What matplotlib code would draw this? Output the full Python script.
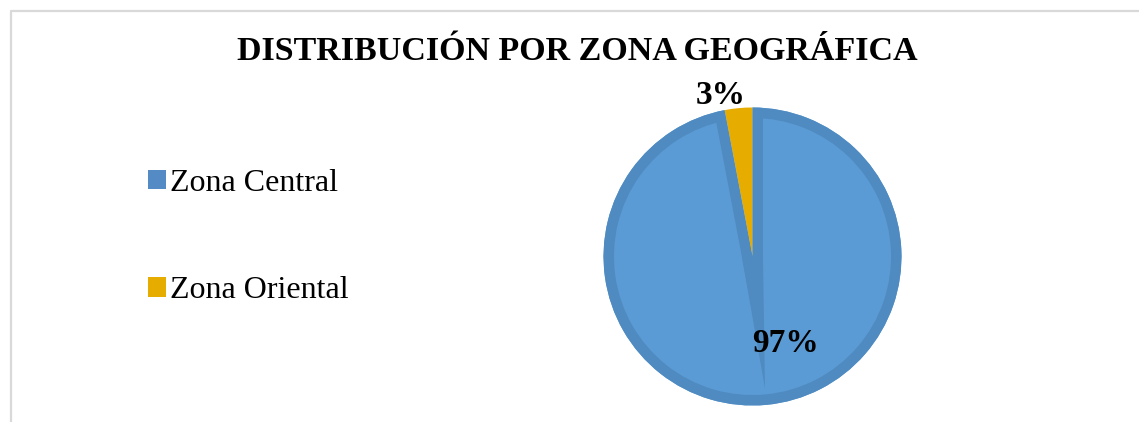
import numpy as np
import matplotlib.pyplot as plt
from matplotlib.patches import Patch, Wedge, Polygon

# données
zonas = ['Zona Central', 'Zona Oriental']
valores = [97, 3]
etiquetas = ['97%', '3%']
titulo = 'DISTRIBUCIÓN POR ZONA GEOGRÁFICA'

azul = '#5B9BD5'
azul_borde = '#4F8BC1'
naranja = '#E6AC00'

plt.rcParams['font.family'] = ['Liberation Serif', 'DejaVu Serif']

W, H = 1139, 422
fig = plt.figure(figsize=(W / 100, H / 100), dpi=100)
ax = fig.add_axes([0, 0, 1, 1])
ax.set_xlim(0, W)
ax.set_ylim(0, H)
ax.set_aspect('equal')
ax.axis('off')

# cadre gris clair
ax.plot([10.5, 10.5, W + 5], [-5, H - 11, H - 11], color='#D9D9D9', lw=1.6)

cx, cy, r = 752.5, H - 256.5, 149
wedges, _ = ax.pie(valores, colors=[azul, naranja], startangle=90,
                   counterclock=False, center=(cx, cy), radius=r,
                   wedgeprops=dict(linewidth=0))

# bordure intérieure du secteur bleu : même secteur, trait épais coupé par le secteur
w0 = wedges[0]
e = 10.5   # demi-épaisseur du trait (px)
borde = Wedge(w0.center, w0.r, w0.theta1, w0.theta2, facecolor='none',
              edgecolor=azul_borde, linewidth=2 * e * 72 / 100, zorder=3)
ax.add_patch(borde)
borde.set_clip_path(w0)

# pointe du raccord en onglet au centre (comme Excel)
c = np.array(w0.center)
t1, t2 = np.radians(w0.theta1), np.radians(w0.theta2)
demi = (2 * np.pi - (t2 - t1)) / 2
bis = (t1 + t2) / 2
A = c + e * np.array([np.cos(t2 - np.pi / 2), np.sin(t2 - np.pi / 2)])
B = c + e * np.array([np.cos(t1 + np.pi / 2), np.sin(t1 + np.pi / 2)])
T = c + 12.5 / np.sin(demi) * np.array([np.cos(bis), np.sin(bis)])
pointe = Polygon([c, A, T, B], closed=True, facecolor=azul_borde,
                 edgecolor='none', zorder=3)
ax.add_patch(pointe)
pointe.set_clip_path(w0)
ax.set_xlim(0, W)
ax.set_ylim(0, H)

# étiquettes de pourcentage
ax.text(cx + 33, cy - 87, etiquetas[0], fontsize=24, fontweight='bold',
        ha='center', va='center', zorder=5)
ax.text(cx - 32, cy + 161, etiquetas[1], fontsize=24, fontweight='bold',
        ha='center', va='center', zorder=5)

ax.text(577, H - 52, titulo, fontsize=24.5, fontweight='bold',
        ha='center', va='center')

handles = [Patch(facecolor=col, edgecolor='none') for col in ['#558BC4', naranja]]
ax.legend(handles, zonas, loc='upper left', bbox_to_anchor=(135 / W, 1 - 156 / H),
          frameon=False, fontsize=23, handlelength=0.58, handleheight=0.58,
          handletextpad=0.12, labelspacing=2.45, borderaxespad=0)

fig.savefig('out.png', dpi=100)
